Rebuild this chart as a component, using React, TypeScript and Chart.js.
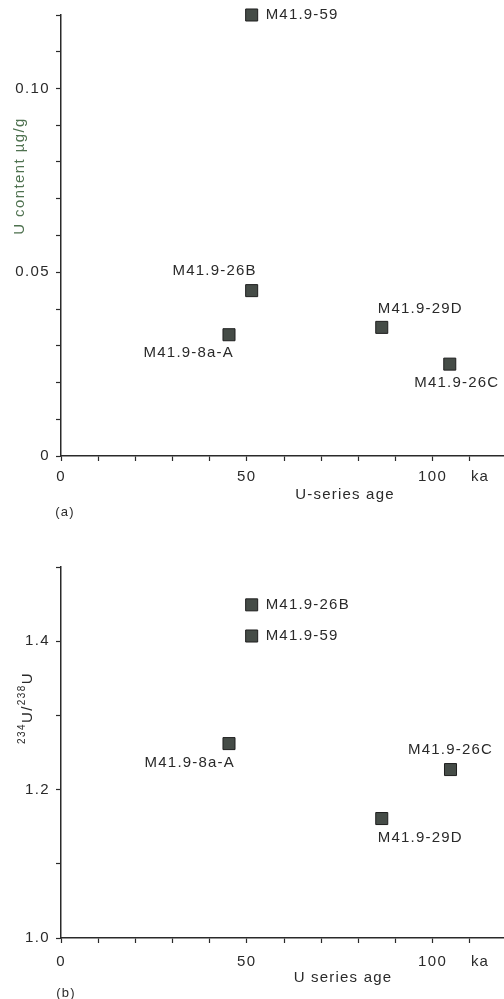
import React, { useEffect, useRef } from 'react';
import { Chart, registerables } from 'chart.js';

Chart.register(...registerables);

// ---- Data: panel (a) U content vs U-series age ----
const samplesA = ['M41.9-59', 'M41.9-26B', 'M41.9-8a-A', 'M41.9-29D', 'M41.9-26C'];
const agesA = [51.3, 51.3, 45.2, 86.3, 104.6];
const uContent = [0.12, 0.045, 0.033, 0.035, 0.025];

// ---- Data: panel (b) 234U/238U vs U series age ----
const samplesB = ['M41.9-26B', 'M41.9-59', 'M41.9-8a-A', 'M41.9-26C', 'M41.9-29D'];
const agesB = [51.3, 51.3, 45.2, 104.8, 86.3];
const activityRatio = [1.449, 1.407, 1.262, 1.227, 1.161];

// ---- Tick labels ----
const xTickLabels = [0, 50, 100];
const yTickLabelsA = [0, 0.05, 0.1];
const yTickLabelsB = [1.0, 1.2, 1.4];

// ---- Label placement (style only) ----
type Place = { align: CanvasTextAlign; dx: number; dy: number };
const placeA: Place[] = [
  { align: 'left', dx: 14, dy: 0 },
  { align: 'right', dx: 5, dy: -20 },
  { align: 'right', dx: 5, dy: 18 },
  { align: 'left', dx: -4, dy: -19 },
  { align: 'center', dx: 7, dy: 19 },
];
const placeB: Place[] = [
  { align: 'left', dx: 14, dy: 0 },
  { align: 'left', dx: 14, dy: 0 },
  { align: 'right', dx: 6, dy: 19 },
  { align: 'center', dx: 0, dy: -20 },
  { align: 'left', dx: -4, dy: 19 },
];

const FONT = '"Liberation Sans", Arial, sans-serif';
const INK = '#2a2a2a';

type Part = { t: string; sup?: boolean };

interface PanelCfg {
  canvasHeight: number;
  padTop: number;
  xHeight: number;
  tickPadX: number;
  names: string[];
  xs: number[];
  ys: number[];
  places: Place[];
  yMin: number;
  yMax: number;
  yStep: number;
  yLabels: number[];
  yFmt: (v: number) => string;
  yTitle: Part[];
  yTitleColor: string;
  yTitleX: number;
  yTitleY: number;
  xTitle: string;
  xTitleX: number;
  xTitleDy: number;
  kaDy: number;
  panel: string;
  panelX: number;
  panelY: number;
}

const near = (arr: number[], v: number) => arr.some((a) => Math.abs(a - v) < 1e-6);

function drawRotated(ctx: CanvasRenderingContext2D, parts: Part[], x: number, y: number, color: string) {
  ctx.save();
  ctx.translate(x, y);
  ctx.rotate(-Math.PI / 2);
  ctx.fillStyle = color;
  ctx.textBaseline = 'alphabetic';
  ctx.textAlign = 'left';
  const fontFor = (p: Part) => (p.sup ? `10px ${FONT}` : `15px ${FONT}`);
  let total = 0;
  for (const p of parts) {
    ctx.font = fontFor(p);
    total += ctx.measureText(p.t).width;
  }
  let cx = -total / 2;
  for (const p of parts) {
    ctx.font = fontFor(p);
    ctx.fillText(p.t, cx, p.sup ? -7 : 0);
    cx += ctx.measureText(p.t).width;
  }
  ctx.restore();
}

function makeDecor(cfg: PanelCfg) {
  return {
    id: 'decor',
    beforeDraw(chart: any) {
      (chart.ctx as any).letterSpacing = '1.4px';
    },
    afterDraw(chart: any) {
      const ctx: CanvasRenderingContext2D = chart.ctx;
      const area = chart.chartArea;
      const xs = chart.scales.x;
      const ys = chart.scales.y;
      ctx.save();
      (ctx as any).letterSpacing = '1.2px';
      ctx.fillStyle = INK;
      ctx.font = `15px ${FONT}`;
      ctx.textBaseline = 'middle';
      // point labels
      cfg.names.forEach((n, i) => {
        const px = xs.getPixelForValue(cfg.xs[i]);
        const py = ys.getPixelForValue(cfg.ys[i]);
        const p = cfg.places[i];
        ctx.textAlign = p.align;
        ctx.fillText(n, px + p.dx, py + p.dy);
      });
      // x title
      ctx.textAlign = 'center';
      ctx.fillText(cfg.xTitle, cfg.xTitleX, area.bottom + cfg.xTitleDy);
      // ka unit
      ctx.fillText('ka', 480, area.bottom + cfg.kaDy);
      // panel label
      ctx.font = `13px ${FONT}`;
      ctx.fillText(cfg.panel, cfg.panelX, cfg.panelY);
      ctx.restore();
      drawRotated(ctx, cfg.yTitle, cfg.yTitleX, cfg.yTitleY, cfg.yTitleColor);
    },
  };
}

function Panel({ cfg, top }: { cfg: PanelCfg; top: number }) {
  const ref = useRef<HTMLCanvasElement>(null);
  useEffect(() => {
    if (!ref.current) return;
    const tickFont = { family: FONT, size: 15 };
    const gridOpts = {
      drawOnChartArea: false,
      drawTicks: true,
      tickLength: 5,
      tickColor: INK,
      tickWidth: 1.2,
    };
    const chart = new Chart(ref.current, {
      type: 'scatter',
      data: {
        datasets: [
          {
            data: cfg.xs.map((x, i) => ({ x, y: cfg.ys[i] })),
            pointStyle: 'rect',
            pointRadius: 8.5,
            pointHoverRadius: 8.5,
            backgroundColor: '#454c47',
            borderColor: '#1f1f1f',
            borderWidth: 1,
            clip: false as any,
          },
        ],
      },
      options: {
        animation: false,
        responsive: false,
        devicePixelRatio: 1,
        layout: { autoPadding: false, padding: { top: cfg.padTop, left: 0, right: 0, bottom: 0 } },
        plugins: { legend: { display: false }, tooltip: { enabled: false } },
        scales: {
          x: {
            type: 'linear',
            bounds: 'data',
            min: 0,
            max: 120,
            border: { display: true, color: INK, width: 1.5 },
            grid: gridOpts,
            ticks: {
              stepSize: 10,
              autoSkip: false,
              maxRotation: 0,
              padding: cfg.tickPadX,
              color: INK,
              font: tickFont,
              callback: (v: any) => (near(xTickLabels, Number(v)) ? String(Math.round(Number(v))) : ''),
            },
            afterFit: (s: any) => {
              s.height = cfg.xHeight;
              s.paddingLeft = 0;
              s.paddingRight = 0;
            },
          },
          y: {
            type: 'linear',
            min: cfg.yMin,
            max: cfg.yMax,
            border: { display: true, color: INK, width: 1.5 },
            grid: gridOpts,
            ticks: {
              stepSize: cfg.yStep,
              autoSkip: false,
              padding: 6,
              color: INK,
              font: tickFont,
              callback: (v: any) => (near(cfg.yLabels, Number(v)) ? cfg.yFmt(Number(v)) : ''),
            },
            afterFit: (s: any) => {
              s.width = 61;
              s.paddingTop = 0;
              s.paddingBottom = 0;
            },
          },
        },
      },
      plugins: [makeDecor(cfg)],
    });
    return () => chart.destroy();
  }, []);
  return (
    <canvas
      ref={ref}
      width={507}
      height={cfg.canvasHeight}
      style={{ position: 'absolute', left: 0, top, width: 507, height: cfg.canvasHeight }}
    />
  );
}

const cfgA: PanelCfg = {
  canvasHeight: 525,
  padTop: 15,
  xHeight: 69,
  tickPadX: 7,
  names: samplesA,
  xs: agesA,
  ys: uContent,
  places: placeA,
  yMin: 0,
  yMax: 0.12,
  yStep: 0.01,
  yLabels: yTickLabelsA,
  yFmt: (v) => (v === 0 ? '0' : v.toFixed(2)),
  yTitle: [{ t: 'U content µg/g' }],
  yTitleColor: '#4f7250',
  yTitleX: 24,
  yTitleY: 176,
  xTitle: 'U-series age',
  xTitleX: 345,
  xTitleDy: 39,
  kaDy: 21,
  panel: '(a)',
  panelX: 65,
  panelY: 512,
};

const cfgB: PanelCfg = {
  canvasHeight: 474,
  padTop: 42,
  xHeight: 61,
  tickPadX: 10,
  names: samplesB,
  xs: agesB,
  ys: activityRatio,
  places: placeB,
  yMin: 1.0,
  yMax: 1.5,
  yStep: 0.1,
  yLabels: yTickLabelsB,
  yFmt: (v) => v.toFixed(1),
  yTitle: [{ t: '234', sup: true }, { t: 'U/' }, { t: '238', sup: true }, { t: 'U' }],
  yTitleColor: INK,
  yTitleX: 32,
  yTitleY: 183,
  xTitle: 'U series age',
  xTitleX: 343,
  xTitleDy: 40,
  kaDy: 24,
  panel: '(b)',
  panelX: 66,
  panelY: 468,
};

export default function App() {
  return (
    <div style={{ position: 'absolute', left: 0, top: 0, width: 504, height: 999, overflow: 'hidden', background: '#fff' }}>
      <Panel cfg={cfgA} top={0} />
      <Panel cfg={cfgB} top={525} />
    </div>
  );
}
